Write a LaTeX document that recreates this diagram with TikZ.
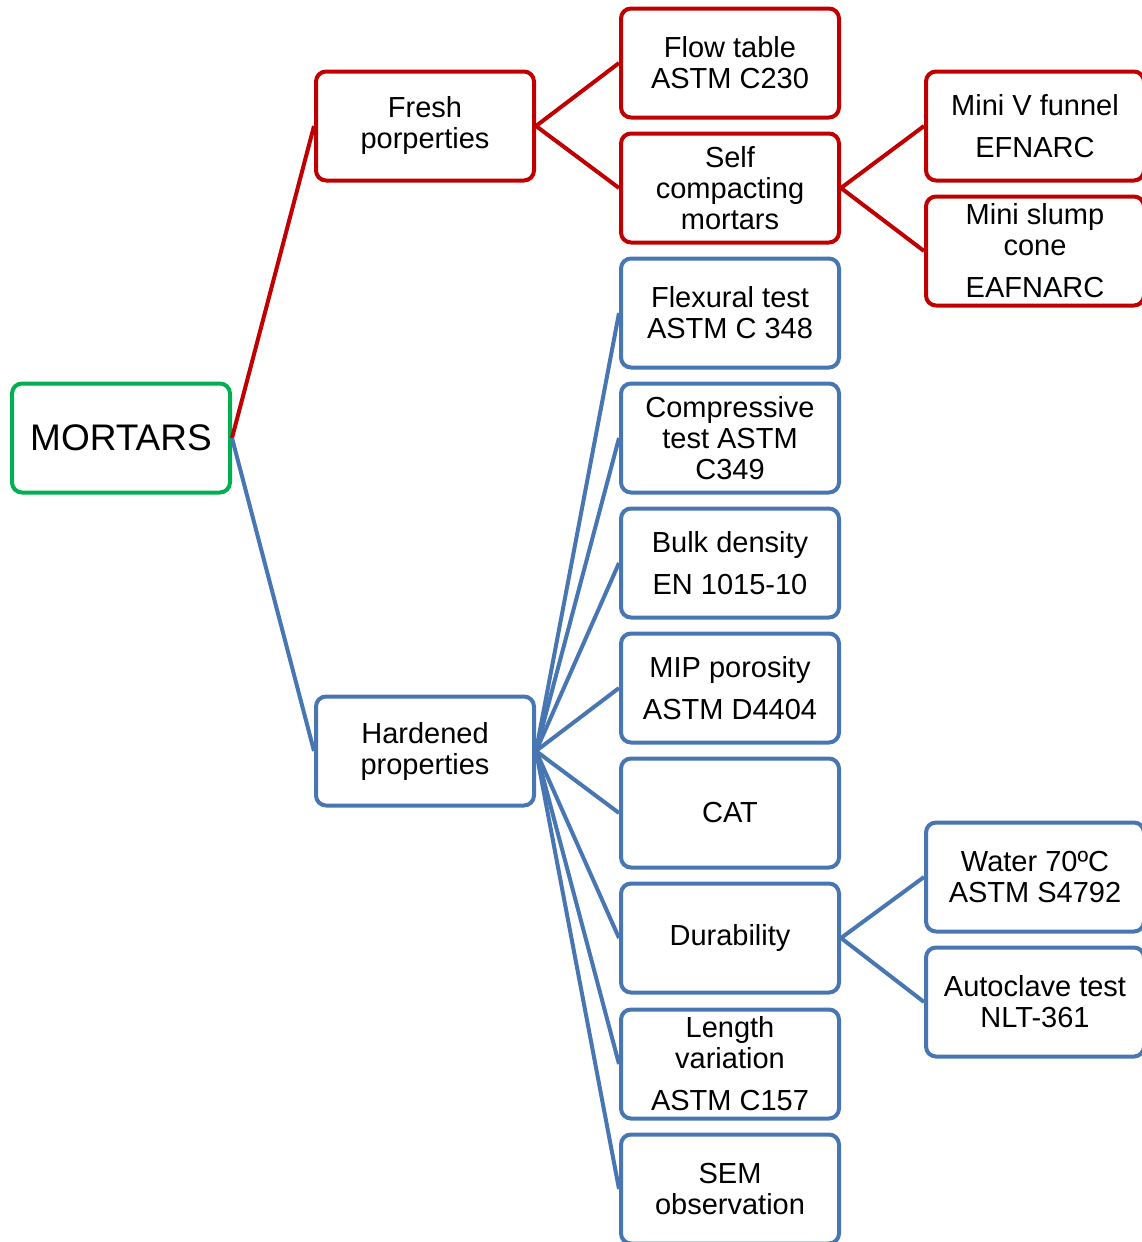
\documentclass[tikz,border=0pt]{standalone}
\usepackage{fontspec}
\setmainfont{Liberation Sans}
\definecolor{mortgreen}{RGB}{0,176,80}
\definecolor{mortred}{RGB}{192,0,0}
\definecolor{mortblue}{RGB}{72,118,178}
\usetikzlibrary{positioning}

\begin{document}
\begin{tikzpicture}[x=1pt, y=-1pt,
  testbox/.style={draw, line width=4pt, rounded corners=10pt, fill=white, minimum width=218pt, minimum height=109pt, align=center, inner sep=2pt, font=\fontsize{29}{31}\selectfont},
  redbox/.style={testbox, draw=mortred},
  bluebox/.style={testbox, draw=mortblue},
  greenbox/.style={testbox, draw=mortgreen, font=\fontsize{37}{40}\selectfont},
  redline/.style={draw=mortred, line width=4pt},
  blueline/.style={draw=mortblue, line width=4pt}]
  \useasboundingbox (0,0) rectangle (1142,1242);

  % root and first level
  \node[greenbox] (mortars) at (121,438) {MORTARS};
  \node[redbox] (fresh) at (425,126) {Fresh\\porperties};
  \node[bluebox] (hardened) at (425,751) {Hardened\\properties};

  % fresh properties
  \node[redbox] (flow) at (730,63) {Flow table\\ASTM C230};
  \node[redbox] (scm) at (730,188) {Self\\compacting\\mortars};
  \node[redbox] (vfunnel) at (1035,126) {Mini V funnel\\[11pt]EFNARC};
  \node[redbox] (slump) at (1035,251) {Mini slump\\cone\\[11pt]EAFNARC};

  % hardened properties
  \node[bluebox] (flexural) at (730,313) {Flexural test\\ASTM C 348};
  \node[bluebox] (compressive) at (730,438) {Compressive\\test ASTM\\C349};
  \node[bluebox] (bulk) at (730,563) {Bulk density\\[11pt]EN 1015-10};
  \node[bluebox] (mip) at (730,688) {MIP porosity\\[11pt]ASTM D4404};
  \node[bluebox] (cat) at (730,813) {CAT};
  \node[bluebox] (durability) at (730,938) {Durability};
  \node[bluebox] (length) at (730,1064) {Length\\variation\\[11pt]ASTM C157};
  \node[bluebox] (sem) at (730,1189) {SEM\\observation};
  \node[bluebox] (water) at (1035,877) {Water 70ºC\\ASTM S4792};
  \node[bluebox] (autoclave) at (1035,1002) {Autoclave test\\NLT-361};

  % connectors
  \draw[redline] (mortars.east) -- (fresh.west);
  \draw[blueline] (mortars.east) -- (hardened.west);
  \draw[redline] (fresh.east) -- (flow.west);
  \draw[redline] (fresh.east) -- (scm.west);
  \draw[redline] (scm.east) -- (vfunnel.west);
  \draw[redline] (scm.east) -- (slump.west);
  \foreach \child in {flexural,compressive,bulk,mip,cat,durability,length,sem}
    \draw[blueline] (hardened.east) -- (\child.west);
  \draw[blueline] (durability.east) -- (water.west);
  \draw[blueline] (durability.east) -- (autoclave.west);
\end{tikzpicture}
\end{document}
